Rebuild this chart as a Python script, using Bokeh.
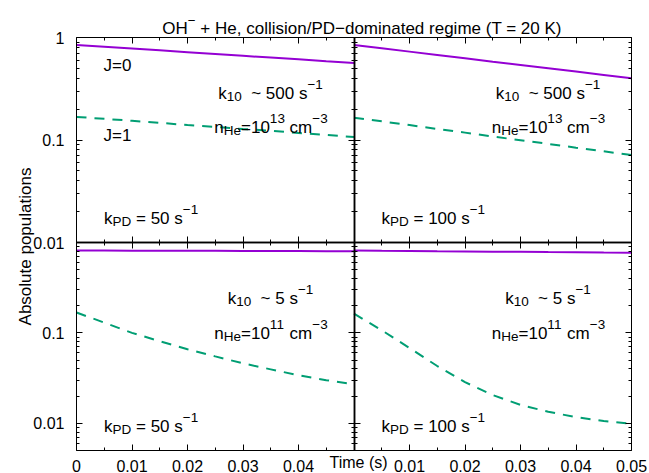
import math

from bokeh.plotting import figure
from bokeh.models import (Range1d, LogScale, LinearScale, LinearAxis, LogAxis,
                          FixedTicker, NumeralTickFormatter, Label)
from bokeh.embed import file_html
from bokeh.resources import INLINE

# ---------------------------------------------------------------------------
# Populations of J=0 and J=1 versus time
# ---------------------------------------------------------------------------
time_s = [0.0, 0.005, 0.01, 0.015, 0.02, 0.025, 0.03, 0.035, 0.04, 0.045, 0.05]

# n_He = 1e13 cm^-3, k_PD = 50 s^-1
j0_hi_pd50 = [0.845, 0.812, 0.780, 0.749, 0.719, 0.690, 0.663, 0.637, 0.612, 0.587, 0.564]
j1_hi_pd50 = [0.168, 0.161, 0.154, 0.147, 0.140, 0.134, 0.128, 0.123, 0.117, 0.112, 0.107]
# n_He = 1e13 cm^-3, k_PD = 100 s^-1
j0_hi_pd100 = [0.845, 0.784, 0.728, 0.675, 0.627, 0.581, 0.540, 0.501, 0.465, 0.431, 0.400]
j1_hi_pd100 = [0.165, 0.152, 0.140, 0.128, 0.118, 0.108, 0.0996, 0.0916, 0.0842, 0.0775, 0.0714]
# n_He = 1e11 cm^-3, k_PD = 50 s^-1
j0_lo_pd50 = [0.815, 0.814, 0.812, 0.811, 0.809, 0.808, 0.806, 0.805, 0.803, 0.802, 0.800]
j1_lo_pd50 = [0.168, 0.130, 0.100, 0.081, 0.066, 0.055, 0.046, 0.0395, 0.034, 0.030, 0.027]
# n_He = 1e11 cm^-3, k_PD = 100 s^-1
j0_lo_pd100 = [0.815, 0.810, 0.806, 0.801, 0.797, 0.792, 0.788, 0.783, 0.779, 0.774, 0.770]
j1_lo_pd100 = [0.163, 0.107, 0.068, 0.043, 0.0285, 0.0205, 0.016, 0.0134, 0.0117, 0.0106, 0.0099]

# axis ticks
x_major = [0.0, 0.01, 0.02, 0.03, 0.04, 0.05]
x_minor = [0.005, 0.015, 0.025, 0.035, 0.045]
x_labels_left = [0.0, 0.01, 0.02, 0.03, 0.04]
x_labels_right = [0.01, 0.02, 0.03, 0.04, 0.05]
y_major = [0.01, 0.1, 1.0]
y_minor_top = [0.02, 0.03, 0.04, 0.05, 0.06, 0.07, 0.08, 0.09,
               0.2, 0.3, 0.4, 0.5, 0.6, 0.7, 0.8, 0.9]
y_minor_bot = [0.005, 0.006, 0.007, 0.008, 0.009] + y_minor_top
y_labels_top = [0.01, 0.1, 1.0]
y_labels_bot = [0.01, 0.1]

title_parts = [("OH", "n"), ("\u2212", "sup"),
               (" + He, collision/PD\u2212dominated regime (T = 20 K)", "n")]
y_label = "Absolute populations"
x_label = "Time (s)"

# ---------------------------------------------------------------------------
# Layout and style
# ---------------------------------------------------------------------------
W, H = 649, 473
FRAME_L, FRAME_R, FRAME_T, FRAME_B = 76, 631, 37, 450
MID_X = (FRAME_L + FRAME_R) / 2.0
MID_Y = 242
T_MAX = 0.05
TOP_LO, TOP_HI = 0.01, 1.0
BOT_LO, BOT_HI = 0.005, 1.0

FONT = "Liberation Sans"
PURPLE = "#9400d3"
GREEN = "#009e73"
SIZE = {"n": 17, "sub": 13.5, "sup": 13.5}
SHIFT = {"n": 0, "sub": -3.4, "sup": 8.8}

# pixels per unit of time and per decade in each row of panels
px_t = (MID_X - FRAME_L) / T_MAX
px_top = (MID_Y - FRAME_T) / math.log10(TOP_HI / TOP_LO)
px_bot = (FRAME_B - MID_Y) / math.log10(BOT_HI / BOT_LO)

# the frame covers the whole canvas; every panel has its own pair of ranges
x_left = Range1d(-FRAME_L / px_t, (W - FRAME_L) / px_t)
x_right = Range1d(-MID_X / px_t, (W - MID_X) / px_t)
y_top = Range1d(TOP_HI * 10 ** (-(H - FRAME_T) / px_top), TOP_HI * 10 ** (FRAME_T / px_top))
y_bot = Range1d(BOT_HI * 10 ** (-(H - MID_Y) / px_bot), BOT_HI * 10 ** (MID_Y / px_bot))

p = figure(width=W, height=H, x_range=x_left, y_range=y_top,
           y_axis_type="log", x_axis_location=None, y_axis_location=None,
           toolbar_location=None, output_backend="svg", title_location=None,
           min_border_left=0, min_border_right=0,
           min_border_top=0, min_border_bottom=0)
p.extra_x_ranges = {"right": x_right}
p.extra_x_scales = {"right": LinearScale()}
p.extra_y_ranges = {"bot": y_bot}
p.extra_y_scales = {"bot": LogScale()}
p.grid.visible = False
p.outline_line_color = None
p.background_fill_color = "white"
p.border_fill_color = "white"


def edge_axis(cls, side, xr, yr, loc, bounds, ticks, minor, width):
    ax = cls(x_range_name=xr, y_range_name=yr, fixed_location=loc, bounds=bounds,
             ticker=FixedTicker(ticks=ticks, minor_ticks=minor))
    ax.axis_line_color = "black"
    ax.axis_line_width = width
    ax.major_tick_line_color = "black"
    ax.minor_tick_line_color = "black"
    ax.major_tick_in = 6
    ax.major_tick_out = 0
    ax.minor_tick_in = 3
    ax.minor_tick_out = 0
    ax.major_label_text_color = None
    p.add_layout(ax, side)


def label_axis(cls, side, xr, yr, loc, bounds, ticks, standoff):
    ax = cls(x_range_name=xr, y_range_name=yr, fixed_location=loc, bounds=bounds,
             ticker=FixedTicker(ticks=ticks, minor_ticks=[]),
             formatter=NumeralTickFormatter(format="0.[00]"))
    ax.axis_line_color = None
    ax.major_tick_line_color = None
    ax.minor_tick_line_color = None
    ax.major_tick_in = 0
    ax.major_tick_out = 0
    ax.minor_tick_in = 0
    ax.minor_tick_out = 0
    ax.major_label_text_font = FONT
    ax.major_label_text_font_size = "16px"
    ax.major_label_text_color = "black"
    ax.major_label_standoff = standoff
    p.add_layout(ax, side)


# vertical panel edges
for xr, loc_x, side, outer in [("default", 0.0, "left", True),
                               ("default", T_MAX, "right", False),
                               ("right", 0.0, "left", False),
                               ("right", T_MAX, "right", True)]:
    w = 1 if outer else 1.5
    edge_axis(LogAxis, side, xr, "default", loc_x, (TOP_LO, TOP_HI), y_major, y_minor_top, w)
    edge_axis(LogAxis, side, xr, "bot", loc_x, (BOT_LO, BOT_HI), y_major, y_minor_bot, w)

# horizontal panel edges
for yr, loc_y, side, outer in [("default", TOP_HI, "above", True),
                               ("default", TOP_LO, "below", False),
                               ("bot", BOT_HI, "above", False),
                               ("bot", BOT_LO, "below", True)]:
    w = 1 if outer else 1.5
    for xr in ["default", "right"]:
        edge_axis(LinearAxis, side, xr, yr, loc_y, (0.0, T_MAX), x_major, x_minor, w)

# tick labels on the outer edges
label_axis(LogAxis, "left", "default", "default", 0.0, (TOP_LO, TOP_HI), y_labels_top, 12)
label_axis(LogAxis, "left", "default", "bot", 0.0, (BOT_LO, BOT_HI), y_labels_bot, 12)
label_axis(LinearAxis, "below", "default", "bot", BOT_LO, (0.0, T_MAX), x_labels_left, 9)
label_axis(LinearAxis, "below", "right", "bot", BOT_LO, (0.0, T_MAX), x_labels_right, 9)

# curves
panels = [("default", "default", j0_hi_pd50, j1_hi_pd50),
          ("right", "default", j0_hi_pd100, j1_hi_pd100),
          ("default", "bot", j0_lo_pd50, j1_lo_pd50),
          ("right", "bot", j0_lo_pd100, j1_lo_pd100)]
for xr, yr, j0, j1 in panels:
    p.line(time_s, j0, x_range_name=xr, y_range_name=yr,
           line_color=PURPLE, line_width=2)
    p.line(time_s, j1, x_range_name=xr, y_range_name=yr,
           line_color=GREEN, line_width=2, line_dash="10 8")

# ---------------------------------------------------------------------------
# Text with sub/superscripts, laid out piece by piece
# ---------------------------------------------------------------------------
CHAR_W = {" ": 278, "(": 333, ")": 333, "+": 584, ",": 278, "-": 333, ".": 278,
          "/": 278, "=": 584, "~": 584, "\u2212": 584,
          "A": 667, "D": 722, "H": 722, "J": 500, "K": 667, "O": 778, "P": 667,
          "T": 611, "a": 556, "b": 556, "c": 500, "d": 556, "e": 556, "g": 556,
          "i": 222, "k": 500, "l": 222, "m": 833, "n": 556, "o": 556, "p": 556,
          "r": 333, "s": 500, "t": 278, "u": 556}


def text_width(s, size):
    return sum(CHAR_W.get(c, 556) for c in s) * size / 1000.0


def rich_text(parts, xr, yr, x0, y0, dx, dy, align="left"):
    total = sum(text_width(t, SIZE[r]) for t, r in parts)
    cur = dx - total / 2.0 if align == "center" else dx
    for t, r in parts:
        size = SIZE[r]
        lead = len(t) - len(t.lstrip(" "))
        body = t.strip(" ")
        if body:
            p.add_layout(Label(x=x0, y=y0, x_range_name=xr, y_range_name=yr,
                               x_offset=cur + text_width(" " * lead, size),
                               y_offset=dy + SHIFT[r], text=body,
                               text_font=FONT, text_font_size=f"{size}px",
                               text_color="black", text_align="left",
                               text_baseline="alphabetic"))
        cur += text_width(t, size)


def k10(rate):
    return [("k", "n"), ("10", "sub"), ("  ~ " + rate + " s", "n"), ("\u22121", "sup")]


def n_he(exp):
    return [("n", "n"), ("He", "sub"), ("=10", "n"), (exp, "sup"),
            (" cm", "n"), ("\u22123", "sup")]


def k_pd(rate):
    return [("k", "n"), ("PD", "sub"), (" = " + rate + " s", "n"), ("\u22121", "sup")]


# title and axis labels
rich_text(title_parts, "default", "default", 0.0, TOP_HI, 285.5, 8.7, align="center")
p.add_layout(Label(x=0.0, y=TOP_LO, x_offset=-51, y_offset=-4, angle=math.pi / 2,
                   text=y_label, text_font=FONT, text_font_size="17px",
                   text_color="black", text_align="center",
                   text_baseline="alphabetic"))
p.add_layout(Label(x=0.0, y=BOT_LO, y_range_name="bot", x_offset=282, y_offset=-12,
                   text=x_label, text_font=FONT, text_font_size="16px",
                   text_color="black", text_align="center",
                   text_baseline="alphabetic"))

# panel annotations
rich_text([("J=0", "n")], "default", "default", 0.0, TOP_LO, 27, 177)
rich_text([("J=1", "n")], "default", "default", 0.0, TOP_LO, 27, 107)
for xr, pd in [("default", "50"), ("right", "100")]:
    rich_text(k10("500"), xr, "default", 0.0, TOP_LO, 194, 149, align="center")
    rich_text(n_he("13"), xr, "default", 0.0, TOP_LO, 194.5, 115.5, align="center")
    rich_text(k_pd(pd), xr, "default", 0.0, TOP_LO, 27.5, 24.5)
    rich_text(k10("5"), xr, "bot", 0.0, BOT_LO, 194, 152, align="center")
    rich_text(n_he("11"), xr, "bot", 0.0, BOT_LO, 194.5, 117, align="center")
    rich_text(k_pd(pd), xr, "bot", 0.0, BOT_LO, 27.5, 24.5)

open("out.html", "w").write(file_html(p, INLINE))
